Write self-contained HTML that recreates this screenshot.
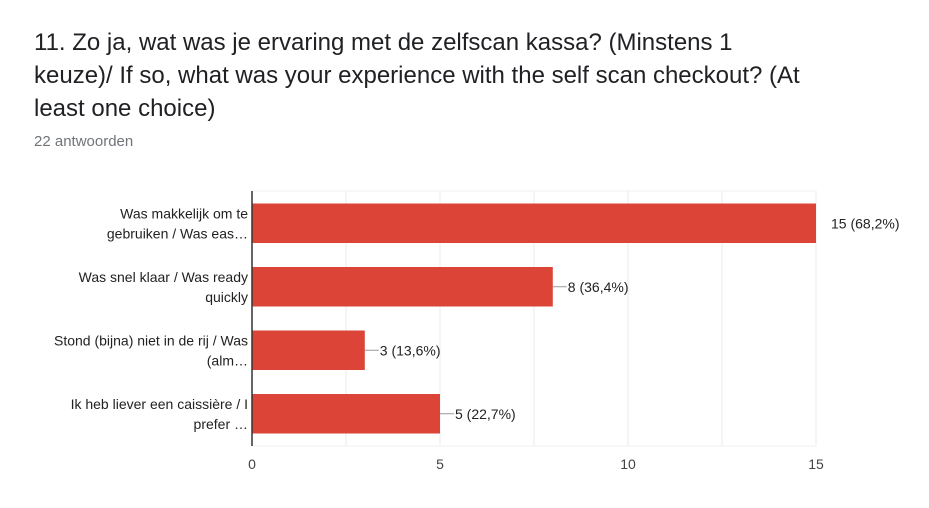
<!DOCTYPE html>
<html><head><meta charset="utf-8"><style>
body{margin:0;background:#fff;width:929px;height:508px;overflow:hidden;font-family:"Liberation Sans",Arial,sans-serif}
.t{position:absolute;left:34px;top:26px;font-size:24px;line-height:33px;color:#202124;width:780px}
.s{position:absolute;left:34px;top:133px;font-size:15px;color:#70757a}
</style></head><body>
<div class="t">11. Zo ja, wat was je ervaring met de zelfscan kassa? (Minstens 1 keuze)/ If so, what was your experience with the self scan checkout? (At least one choice)</div>
<div class="s">22 antwoorden</div>
<svg id="c" width="929" height="508" style="position:absolute;left:0;top:0" font-family="Liberation Sans, Arial, sans-serif"></svg>
<script>
const categories=[["Was makkelijk om te","gebruiken / Was eas…"],["Was snel klaar / Was ready","quickly"],["Stond (bijna) niet in de rij / Was","(alm…"],["Ik heb liever een caissière / I","prefer …"]];
const values=[15,8,3,5];
const valueLabels=["15 (68,2%)","8 (36,4%)","3 (13,6%)","5 (22,7%)"];
const ticks=[0,5,10,15];
const gridVals=[2.5,5,7.5,10,12.5,15];
const svg=document.getElementById('c');const NS='http://www.w3.org/2000/svg';
const x0=252,x1=816,yTop=191,yBot=446,vmax=15;
const X=v=>x0+(x1-x0)*v/vmax;
const band=63.5;
const Y=i=>203.5+band*i;const bh=39.5;
function mk(t,a,p){const e=document.createElementNS(NS,t);for(const k in a)e.setAttribute(k,a[k]);(p||svg).appendChild(e);return e;}
mk('rect',{x:x0,y:yTop,width:x1-x0,height:yBot-yTop,fill:'none',stroke:'#f0f0f0'});
gridVals.forEach(v=>{const l=mk('line',{x1:X(v),x2:X(v),y1:yTop,y2:yBot,stroke:'#ebebeb'});

});
ticks.forEach(v=>{const t=mk('text',{x:X(v),y:469,'text-anchor':'middle','font-size':14,fill:'#444'});t.textContent=v;

});
values.forEach((v,i)=>{
const y=Y(i);
const r=mk('rect',{x:x0,y:y,width:X(v)-x0,height:bh,fill:'#db4437'});


const cy=y+bh/2;
let lx=X(v);
if(v<vmax){mk('line',{x1:lx,x2:lx+14,y1:cy,y2:cy,stroke:'#999'});lx+=15;}else{lx+=15;}
const t=mk('text',{x:lx,y:cy+5,'font-size':14,fill:'#222'});t.textContent=valueLabels[i];


categories[i].forEach((s,j)=>{const c=mk('text',{x:x0-4,y:cy-5+j*20,'text-anchor':'end','font-size':14,fill:'#222'});c.textContent=s;

});
});
mk('line',{x1:x0,x2:x0,y1:yTop,y2:yBot,stroke:'#333','stroke-width':1.5});
</script>
</body></html>
